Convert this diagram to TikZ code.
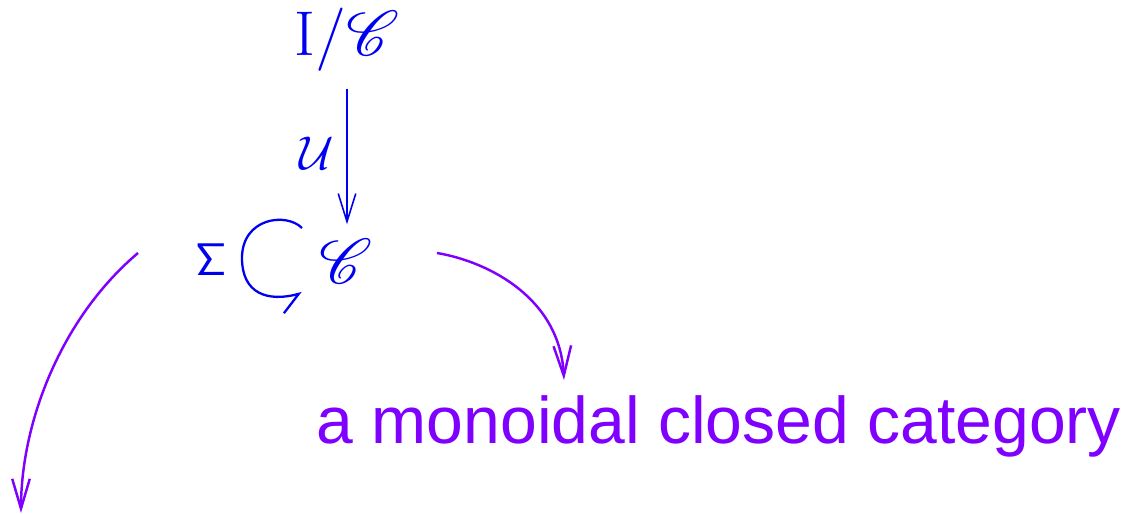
\documentclass[tikz,border=0pt]{standalone}
\usepackage{fix-cm}
\usepackage[no-math]{fontspec}
\usepackage{amsmath,amssymb,mathrsfs,graphicx}
\usetikzlibrary{arrows.meta}
\newfontfamily\labelfont{Liberation Sans}
\definecolor{catblue}{RGB}{0,0,240}
\definecolor{catviolet}{RGB}{128,0,255}
% rsfs stops at 24.88pt, so scale it up by hand
\newcommand{\catC}{\scalebox{1.447}{\fontsize{24.88}{28}\selectfont$\mathscr{C}$}}

\begin{document}
\begin{tikzpicture}[x=0.02cm, y=0.02cm,
  obj/.style={text=catblue, inner sep=0pt, font=\fontsize{36}{40}\selectfont},
  lab/.style={text=catblue, inner sep=0pt, font=\fontsize{27}{30}\selectfont},
  arrow/.style={catblue, line width=0.9pt, -{Straight Barb[length=16pt,width=10pt]}, shorten <=9.5pt, shorten >=8pt},
  loopy/.style={catblue, line width=1.3pt, -{Straight Barb[harpoon,swap,length=11pt,width=17pt]}},
  note/.style={catviolet, line width=1.4pt, -{Straight Barb[length=17pt,width=10pt]}},
  remark/.style={text=catviolet, inner sep=0pt, font=\labelfont\fontsize{37.6}{44}\selectfont}
]
\useasboundingbox (0,0) rectangle (1141,514);
\node[obj, anchor=base] (slice) at (347,458) {$\mathrm{I}/$\catC};
\node[obj, anchor=base] (cat) at (346,231) {\catC};
\node[lab, anchor=base] (u) at (317,344) {$\mathcal{U}$};
\node[lab, anchor=base, font=\fontsize{26}{30}\selectfont] (sigma) at (211,238) {$\mathsf{\Sigma}$};
\node[remark, anchor=base] (mcc) at (719,71) {a monoidal closed category};

\coordinate (loopstart) at (302,286);
\coordinate (loopleft) at (242,256);
\coordinate (loopend) at (302,221);
\coordinate (leftfrom) at (138,261);
\coordinate (leftto) at (21,1);
\coordinate (rightfrom) at (437,261);
\coordinate (rightto) at (564,134);

\draw[arrow] (slice.south) -- (slice.south |- cat.north);
\draw[loopy] (loopstart) .. controls (286,302) and (242,296) .. (loopleft)
  .. controls (242,220) and (268,212) .. (loopend);
\draw[note] (leftfrom) .. controls (60,195) and (21,90) .. (leftto);
\draw[note] (rightfrom) .. controls (490,252) and (560,215) .. (rightto);
\end{tikzpicture}
\end{document}
